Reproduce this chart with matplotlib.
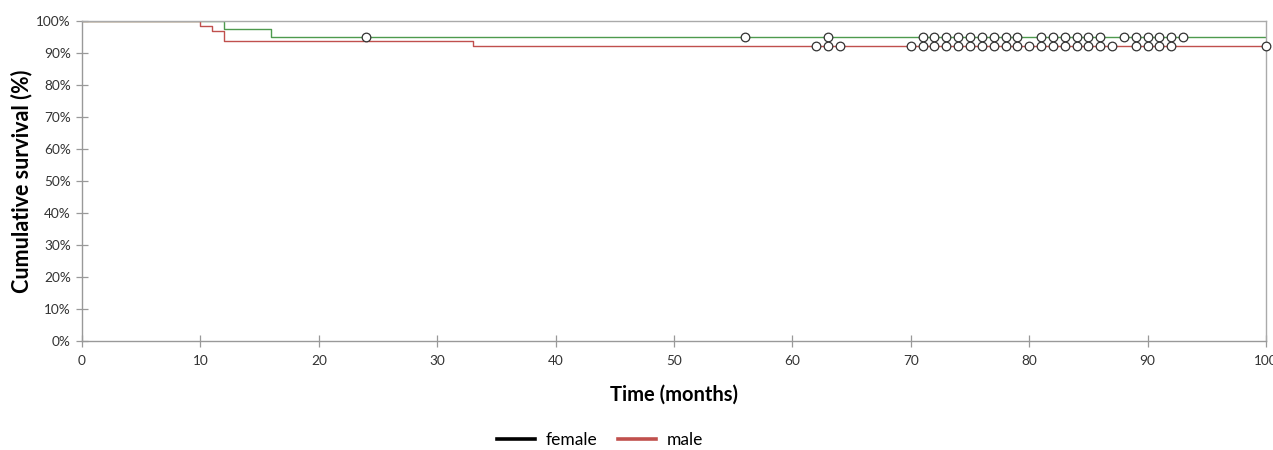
import matplotlib
matplotlib.use("Agg")
import matplotlib.pyplot as plt
from matplotlib.lines import Line2D
from matplotlib.ticker import FuncFormatter

plt.rcParams['font.family'] = ['Lato', 'DejaVu Sans']

# Kaplan-Meier step data (time in months, survival in %)
female_times = [0, 12, 16, 100]
female_surv = [100.0, 97.4, 94.9, 94.9]
male_times = [0, 10, 11, 12, 33, 100]
male_surv = [100.0, 98.4, 96.8, 93.8, 92.2, 92.2]

# Censored observations
female_censor = [24, 56, 63, 71, 72, 73, 74, 75, 76, 77, 78, 79,
                 81, 82, 83, 84, 85, 86, 88, 89, 90, 91, 92, 93]
male_censor = [62, 63, 64, 70, 71, 72, 73, 74, 75, 76, 77, 78, 79, 80,
               81, 82, 83, 84, 85, 86, 87, 89, 90, 91, 92, 100]

legend_labels = ["female", "male"]
x_ticks = list(range(0, 101, 10))
y_ticks = list(range(0, 101, 10))

green = "#4e9a4e"
red = "#c0504d"

fig = plt.figure(figsize=(12.73, 4.5), dpi=100)
ax = fig.add_axes([82/1273, 1 - 341/450, (1266 - 82)/1273, (341 - 21)/450])

def surv_at(times, surv, t):
    val = surv[0]
    for ti, si in zip(times, surv):
        if t >= ti:
            val = si
    return val

ax.step(female_times, female_surv, where='post', color=green, lw=1.0, zorder=2)
ax.step(male_times, male_surv, where='post', color=red, lw=1.0, zorder=2)

ax.plot(female_censor, [surv_at(female_times, female_surv, t) for t in female_censor],
        ls='none', marker='o', ms=6.2, mfc='white', mec='#333333', mew=0.9, zorder=3,
        clip_on=False)
ax.plot(male_censor, [surv_at(male_times, male_surv, t) for t in male_censor],
        ls='none', marker='o', ms=6.2, mfc='white', mec='#333333', mew=0.9, zorder=3,
        clip_on=False)

ax.set_xlim(0, 100)
ax.set_ylim(0, 100)
ax.set_xticks(x_ticks)
ax.set_yticks(y_ticks)
ax.yaxis.set_major_formatter(FuncFormatter(lambda v, p: f"{int(v)}%"))
ax.tick_params(axis='both', direction='inout', length=8, width=0.9, color='#999999',
               labelsize=9.8, labelcolor='#333333')
ax.tick_params(axis='x', pad=6)
ax.tick_params(axis='y', pad=4)
for s in ax.spines.values():
    s.set_color('#aaaaaa')
    s.set_linewidth(1.0)
ax.spines['left'].set_color('#999999')
ax.spines['bottom'].set_color('#999999')

ax.set_xlabel("Time (months)", fontsize=14.5, fontweight='bold', labelpad=13)
ax.set_ylabel("Cumulative survival (%)", fontsize=15.5, fontweight='bold', labelpad=3)

handles = [Line2D([0], [0], color='black', lw=2.6),
           Line2D([0], [0], color=red, lw=2.6)]
fig.legend(handles, legend_labels, loc='center', bbox_to_anchor=(600/1273, 1 - 440/450),
           ncol=2, frameon=False, fontsize=12.5, handlelength=2.2, columnspacing=1.2,
           handletextpad=0.6)

fig.savefig("out.png", dpi=100)
